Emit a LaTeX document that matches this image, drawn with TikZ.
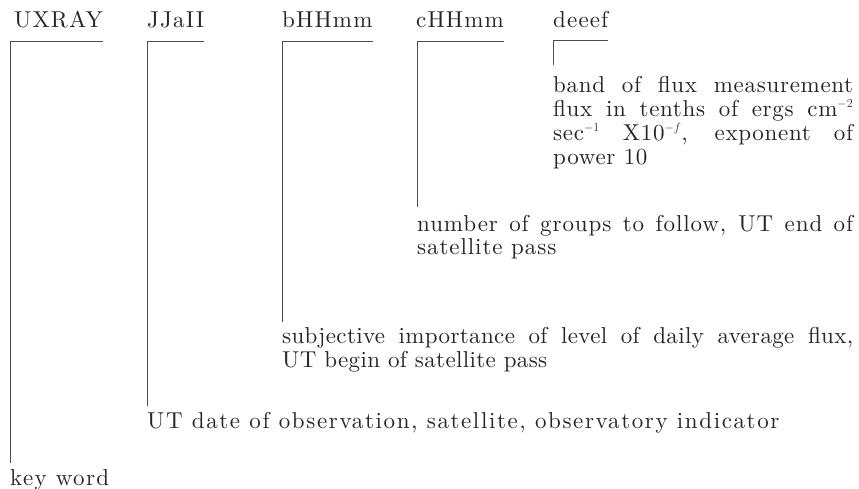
\documentclass[tikz,border=0pt]{standalone}
\usepackage{fontspec}
\setmainfont{lmroman10-regular.otf}
\newcommand{\sups}[1]{$^{\scriptscriptstyle #1}$}
\begin{document}
\begin{tikzpicture}[x=1pt,y=-1pt,
    field/.style={anchor=base west,inner sep=0pt,text=black!85,
      font=\fontsize{23}{24}\selectfont\addfontfeatures{LetterSpace=5}},
    note/.style={anchor=base west,inner sep=0pt,text=black!85,align=justify,
      font=\fontsize{23}{24}\selectfont\addfontfeatures{LetterSpace=#1}},
    note/.default=4,
    bracket/.style={draw=black!70,line width=0.9pt}]
    \useasboundingbox (0,0) rectangle (859,489);
    % field names
    \node[field] (uxray) at (14,28) {UXRAY};
    \node[field] (jjaii) at (147,28) {JJaII};
    \node[field] (bhhmm) at (282,28) {bHHmm};
    \node[field] (chhmm) at (416,28) {cHHmm};
    \node[field] (deeef) at (553,28) {deeef};
    % explanations
    \node[note=3,text width=300pt] (deeefnote) at (553,93)
      {band of flux measurement\linebreak flux in tenths of ergs cm\sups{-2}\linebreak
       sec\sups{-1} X10\sups{-f}, exponent of\linebreak power 10};
    \node[note=4,text width=436pt] (chhmmnote) at (417,231)
      {number of groups to follow, UT end of\linebreak satellite pass};
    \node[note=1.5,text width=571pt] (bhhmmnote) at (282,343)
      {subjective importance of level of daily average flux,\linebreak UT begin of satellite pass};
    \node[note=7] (jjaiinote) at (147,428)
      {UT date of observation, satellite, observatory indicator};
    \node[note=6] (uxraynote) at (10,485) {key word};
    % brackets
    \draw[bracket] ([yshift=6pt]uxraynote.north west) |- ([yshift=-13pt]uxray.base east);
    \draw[bracket] ([yshift=6pt]jjaiinote.north west) |- ([yshift=-13pt]jjaii.base east);
    \draw[bracket] ([yshift=5pt]bhhmmnote.north west) |- ([yshift=-13pt]bhhmm.base east);
    \draw[bracket] ([yshift=8pt]chhmmnote.north west) |- ([yshift=-13pt]chhmm.base east);
    \draw[bracket] ([yshift=12pt]deeefnote.north west) |- ([yshift=-12pt]deeef.base east);
\end{tikzpicture}
\end{document}
